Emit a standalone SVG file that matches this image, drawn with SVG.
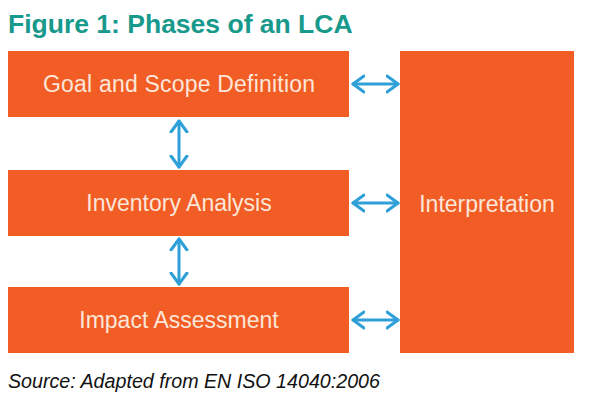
<svg xmlns="http://www.w3.org/2000/svg" width="592" height="400" viewBox="0 0 592 400">
<style>
.box{fill:#f15d24}
.lbl{font-family:"Liberation Sans",Arial,sans-serif;font-size:23px;fill:#fce6da;text-anchor:middle}
.arr{fill:none;stroke:#2f9fd8;stroke-width:3;stroke-linecap:round;stroke-linejoin:round}
</style>
<defs>
<marker id="head" viewBox="-12 -10 14 20" markerWidth="14" markerHeight="20" markerUnits="userSpaceOnUse" refX="0" refY="0" orient="auto-start-reverse">
<path d="M-11,-8 L0,0 L-11,8" fill="none" stroke="#2f9fd8" stroke-width="3" stroke-linecap="round" stroke-linejoin="round"/>
</marker>
</defs>
<rect width="592" height="400" fill="#ffffff"/>
<text x="8" y="33" font-family="'Liberation Sans',Arial,sans-serif" font-weight="bold" font-size="26.5" fill="#17998c">Figure 1: Phases of an LCA</text>
<g id="goal"><rect class="box" x="8" y="51" width="341" height="66"/><text class="lbl" x="179" y="92" textLength="272" lengthAdjust="spacing">Goal and Scope Definition</text></g>
<g id="inventory"><rect class="box" x="8" y="170" width="341" height="66"/><text class="lbl" x="179" y="211">Inventory Analysis</text></g>
<g id="impact"><rect class="box" x="8" y="287" width="341" height="66"/><text class="lbl" x="179" y="328">Impact Assessment</text></g>
<g id="interpretation"><rect class="box" x="400" y="51" width="174" height="302"/><text class="lbl" x="487" y="212">Interpretation</text></g>
<g id="connectors">
<line class="arr" x1="353" y1="84" x2="398" y2="84" marker-start="url(#head)" marker-end="url(#head)"/>
<line class="arr" x1="353" y1="203" x2="398" y2="203" marker-start="url(#head)" marker-end="url(#head)"/>
<line class="arr" x1="353" y1="320" x2="398" y2="320" marker-start="url(#head)" marker-end="url(#head)"/>
<line class="arr" x1="179" y1="121" x2="179" y2="167" marker-start="url(#head)" marker-end="url(#head)"/>
<line class="arr" x1="179" y1="239" x2="179" y2="284" marker-start="url(#head)" marker-end="url(#head)"/>
</g>
<text x="8" y="388" font-family="'Liberation Sans',Arial,sans-serif" font-style="italic" font-size="20" fill="#111111" textLength="372" lengthAdjust="spacingAndGlyphs">Source: Adapted from EN ISO 14040:2006</text>
</svg>
